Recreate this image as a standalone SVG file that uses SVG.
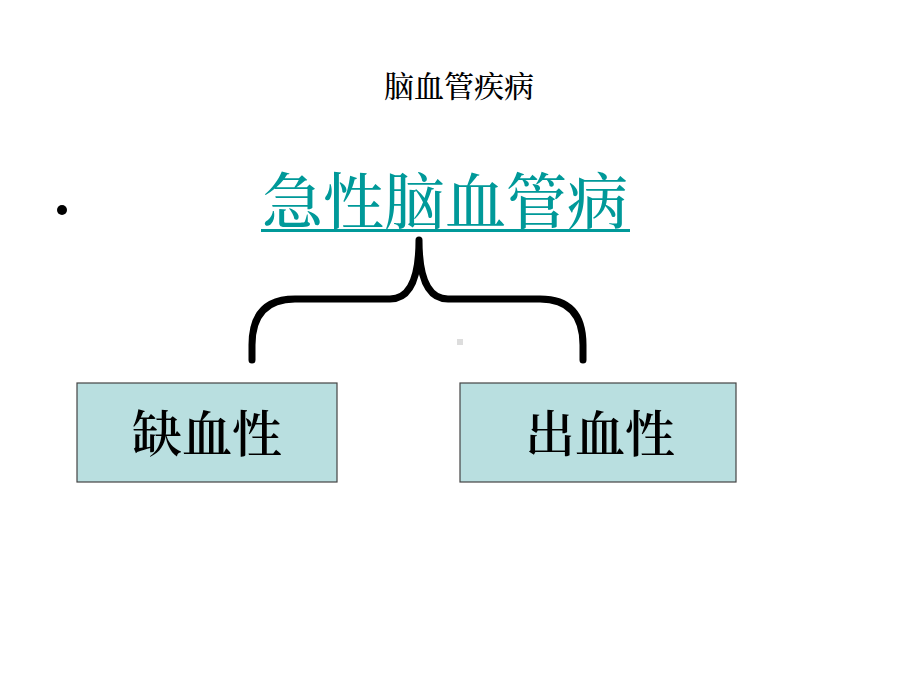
<svg xmlns="http://www.w3.org/2000/svg" width="920" height="690" viewBox="0 0 920 690">
<style>
.cjk{font-family:"Noto Serif CJK SC","Noto Sans CJK SC","Liberation Serif",serif;}
.box{fill:#b9dfe0;stroke:#444;stroke-width:1.2;}
.lbl{font-size:50px;fill:#000;text-anchor:middle;font-weight:600;}
</style>
<rect width="920" height="690" fill="#fff"/>
<text id="title" class="cjk" x="459" y="97" font-size="30" text-anchor="middle" fill="#000" font-weight="500">脑血管疾病</text>
<circle cx="62" cy="210" r="5" fill="#000"/>
<g id="main">
<text class="cjk" x="445" y="224" font-size="61" text-anchor="middle" fill="#009999" font-weight="500">急性脑血管病</text>
<rect x="261" y="229" width="369" height="3" fill="#009999"/>
</g>
<g id="connectors">
<path d="M252,360 L252,345 Q252,299 295,299 L390,299 Q419,299 419,240 Q419,299 448,299 L540,299 Q583,299 583,345 L583,360" fill="none" stroke="#000" stroke-width="7" stroke-linecap="round" stroke-linejoin="round"/>
</g>
<rect x="457" y="339" width="6" height="6" fill="#dddddd"/>
<g id="ischemic">
<rect class="box" x="77" y="383" width="260" height="99"/>
<text class="cjk lbl" x="207" y="452">缺血性</text>
</g>
<g id="hemorrhagic">
<rect class="box" x="460" y="383" width="276" height="99"/>
<text class="cjk lbl" x="600" y="452">出血性</text>
</g>
</svg>
